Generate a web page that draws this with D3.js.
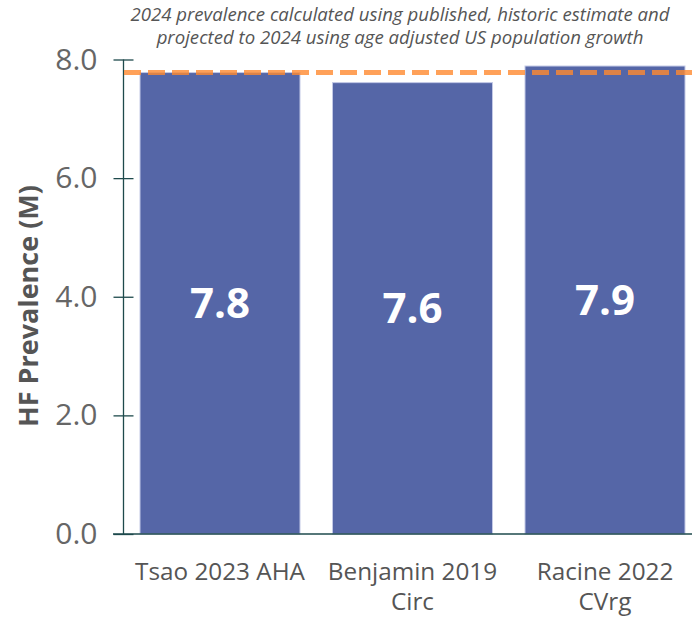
<!DOCTYPE html>
<html>
<head>
<meta charset="utf-8">
<script src="https://cdn.jsdelivr.net/npm/d3@7"></script>
<style>
  html, body { margin: 0; padding: 0; background: #fff; }
  svg { display: block; font-family: "Open Sans", "Noto Sans", sans-serif; }
</style>
</head>
<body>
<svg id="chart" width="692" height="617"></svg>
<script>
// Heart failure prevalence estimates (millions), projected to 2024
const sources = ["Tsao 2023 AHA", "Benjamin 2019 Circ", "Racine 2022 CVrg"];
const sourceLines = [["Tsao 2023 AHA"], ["Benjamin 2019", "Circ"], ["Racine 2022", "CVrg"]];
const prevalence = [7.78, 7.61, 7.89];
const referenceLevel = [7.78];
const yTicks = [0, 2, 4, 6, 8];
const titleLines = [
  "2024 prevalence calculated using published, historic estimate and",
  "projected to 2024 using age adjusted US population growth"
];
const yTitle = "HF Prevalence (M)";

const svg = d3.select("#chart");
const axisColor = "#1e4a4c";

const x = d3.scaleBand()
  .domain(sources)
  .range([123.75, 701.25])
  .paddingInner(0.1688)
  .paddingOuter(0.0844);

const y = d3.scaleLinear()
  .domain([0, 8])
  .range([534, 59.5]);

// Title
svg.append("g")
  .selectAll("text")
  .data(titleLines)
  .join("text")
  .attr("x", 400)
  .attr("y", (d, i) => 21 + i * 22.5)
  .attr("text-anchor", "middle")
  .attr("font-size", 18.6)
  .attr("font-style", "italic")
  .attr("fill", "#555")
  .text(d => d);

// Bars
svg.append("g")
  .selectAll("rect")
  .data(prevalence)
  .join("rect")
  .attr("x", (d, i) => x(sources[i]))
  .attr("y", d => y(d))
  .attr("width", x.bandwidth())
  .attr("height", d => y(0) - y(d))
  .attr("fill", "#5566a7")
  .attr("stroke", "#c3c9e6")
  .attr("stroke-width", 1);

// Value labels
svg.append("g")
  .selectAll("text")
  .data(prevalence)
  .join("text")
  .attr("x", (d, i) => x(sources[i]) + x.bandwidth() / 2)
  .attr("y", d => (y(d) + y(0)) / 2)
  .attr("dy", "0.36em")
  .attr("text-anchor", "middle")
  .attr("font-size", 42)
  .attr("font-weight", 700)
  .attr("fill", "#fff")
  .text(d => d.toFixed(1));

// Y axis
const yAxis = svg.append("g")
  .attr("transform", `translate(${123.5},0)`)
  .call(d3.axisLeft(y).tickValues(yTicks).tickFormat(d3.format(".1f")).tickSize(10).tickPadding(16));
yAxis.select(".domain").remove();
yAxis.selectAll(".tick line")
  .attr("x1", -10).attr("x2", 10)
  .attr("stroke", axisColor).attr("stroke-width", 1.3);
yAxis.selectAll(".tick text")
  .attr("font-size", 30)
  .attr("fill", "#666")
  .attr("font-family", "'Open Sans', sans-serif");
yAxis.append("line")
  .attr("x1", 0).attr("x2", 0)
  .attr("y1", y(8)).attr("y2", y(0))
  .attr("stroke", axisColor).attr("stroke-width", 1.3);

// X baseline
svg.append("line")
  .attr("x1", 113).attr("x2", 692)
  .attr("y1", y(0)).attr("y2", y(0))
  .attr("stroke", axisColor).attr("stroke-width", 1.3);

// X category labels
svg.append("g")
  .selectAll("text")
  .data(sources)
  .join("text")
  .attr("x", d => x(d) + x.bandwidth() / 2)
  .attr("y", 580)
  .attr("text-anchor", "middle")
  .attr("font-size", 24.3)
  .attr("fill", "#555")
  .selectAll("tspan")
  .data((d, i) => sourceLines[i])
  .join("tspan")
  .attr("x", function () { return d3.select(this.parentNode).attr("x"); })
  .attr("dy", (d, i) => i === 0 ? 0 : 30)
  .text(d => d);

// Y axis title
svg.append("text")
  .attr("transform", `translate(38,306) rotate(-90)`)
  .attr("text-anchor", "middle")
  .attr("font-size", 27)
  .attr("font-weight", 700)
  .attr("fill", "#555")
  .text(yTitle);

// Reference dashed line
svg.append("g")
  .selectAll("line")
  .data(referenceLevel)
  .join("line")
  .attr("x1", 124).attr("x2", 692)
  .attr("y1", d => y(d)).attr("y2", d => y(d))
  .attr("stroke", "#ff8a30")
  .attr("stroke-opacity", 0.8)
  .attr("stroke-width", 5)
  .attr("stroke-dasharray", "17,7");
</script>
</body>
</html>
